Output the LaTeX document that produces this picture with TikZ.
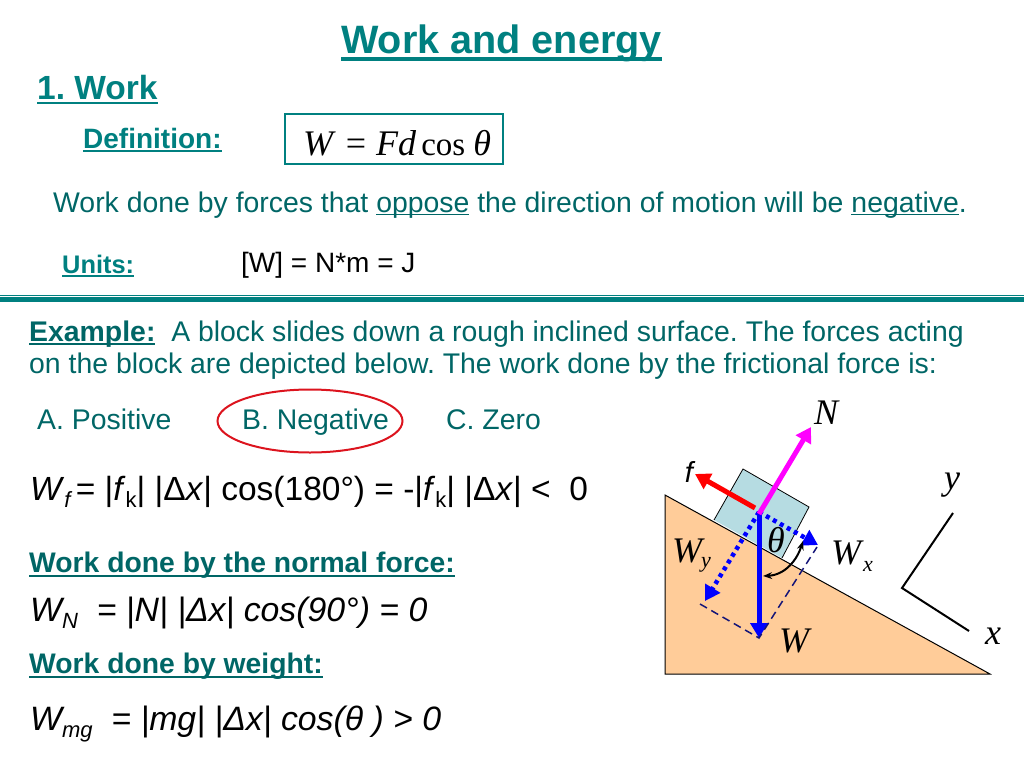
\documentclass[tikz,border=0pt]{standalone}
\usepackage{fontspec}
\setmainfont{Liberation Sans}
\newfontfamily\timesfont{Liberation Serif}
\usetikzlibrary{arrows.meta}
\definecolor{titleteal}{RGB}{0,128,128}
\definecolor{bodyteal}{RGB}{0,102,102}
\definecolor{wedge}{RGB}{255,204,153}
\definecolor{blockblue}{RGB}{182,220,226}
\definecolor{dashnavy}{RGB}{20,20,120}
\definecolor{circlered}{RGB}{220,20,30}
\definecolor{forcemag}{RGB}{255,0,255}
\definecolor{forceblue}{RGB}{0,0,255}
\definecolor{forcered}{RGB}{255,0,0}
\frenchspacing
\newsavebox{\ulbox}
\newcommand{\fsize}[1]{\fontsize{#1}{#1}\selectfont}
\newcommand{\ulined}[2]{\sbox\ulbox{#2}\rlap{\usebox\ulbox}\raisebox{\dimexpr -2\dimexpr #1pt\relax\relax}{\rule{\wd\ulbox}{#1pt}}}
\newcommand{\lowsub}[2]{\raisebox{-7pt}{\fsize{#1}#2}}
\newcommand{\drawforce}{\draw[line width=5pt,-{Triangle[length=15pt,width=17pt]}]}
\newcommand{\drawcomp}{\draw[forceblue,line width=4.5pt,dash pattern=on 4pt off 4pt,-{Triangle[length=15pt,width=17pt,fill=forceblue]}]}
\tikzset{
  lab/.style={inner sep=0pt,anchor=base west},
  head/.style={lab,text=titleteal,font=\bfseries},
  note/.style={lab,text=bodyteal,font=\fsize{28.4}},
  sub/.style={lab,text=bodyteal,font=\bfseries\fsize{28.3}},
  eqn/.style={lab,text=black,font=\fsize{33.5}},
  sym/.style={inner sep=0pt,font=\timesfont\itshape\fsize{36}},
  dashed line/.style={dashnavy,line width=1.5pt,dash pattern=on 8pt off 5pt}
}
\begin{document}
\begin{tikzpicture}[x=1pt,y=-1pt]
\useasboundingbox (0,0) rectangle (1024,768);
\node[head,font=\bfseries\fsize{39.6}] (title) at (341,54) {\ulined{3.5}{Work and energy}};
\node[head,font=\bfseries\fsize{33.5}] (section) at (37,99) {\ulined{2.5}{1. Work}};
\node[head,font=\bfseries\fsize{28}] (defn) at (83,148) {\ulined{2}{Definition:}};
\draw[titleteal,line width=1.5pt] (285,114) rectangle (503,164);
\node[lab,font=\timesfont\fsize{36}] (formula) at (303,155) {\textit{W}\hspace{10pt}=\hspace{10pt}\textit{Fd}\hspace{5pt}{\fsize{33}cos}\hspace{8pt}\textit{θ}};
\node[note] (oppose) at (53,212) {Work done by forces that \ulined{1.5}{oppose} the direction of motion will be \ulined{1.5}{negative}.};
\node[head,font=\bfseries\fsize{25.4}] (units) at (62,273) {\ulined{2}{Units:}};
\node[lab,font=\fsize{28}] (unitline) at (241,272) {[W] = N*m = J};
\draw[titleteal,line width=5pt] (0,299.5)--(1024,299.5);
\draw[titleteal,line width=1pt] (0,295)--(1024,295);

\node[note] (example) at (29,341) {\textbf{\ulined{2}{Example:}}\ \ A block slides down a rough inclined surface. The forces acting};
\node[note] (exampletwo) at (29,373) {on the block are depicted below. The work done by the frictional force is:};
\node[note] (choicea) at (37,429) {A. Positive};
\node[note] (choiceb) at (242,429) {B. Negative};
\node[note] (choicec) at (446,429) {C. Zero};
\draw[circlered,line width=2pt] (310,421) ellipse (92.5 and 31.5);

\node[eqn] (wf) at (30,500) {\textit{W}\lowsub{22}{\textit{f}}\hspace{-6pt} = |\textit{f}\lowsub{22}{k}| |Δ\textit{x}| cos(180°) = -|\textit{f}\lowsub{22}{k}| |Δ\textit{x}| <\ \ 0};
\node[sub] (normalhead) at (29,572) {\ulined{2.5}{Work done by the normal force:}};
\node[eqn,font=\itshape\fsize{33.8}] (wn) at (30,621) {W\lowsub{22}{N}\ \ = |N| |Δx| cos(90°) = 0};
\node[sub] (weighthead) at (29,673) {\ulined{2.5}{Work done by weight:}};
\node[eqn,font=\itshape\fsize{33.8}] (wmg) at (30,730) {W\lowsub{22}{mg}\ \ = |mg| |Δx| cos(θ ) > 0};

% inclined plane
\draw[fill=wedge,line width=1pt] (665,495)--(665,674)--(990,674)--cycle;
\draw[fill=blockblue,line width=.8pt] (714,520)--(743,469)--(809,507)--(782,558);
\coordinate (origin) at (759,512);
\coordinate (nend) at (811,427);
\coordinate (fstart) at (755,508);
\coordinate (fend) at (695,474);
\coordinate (wend) at (759,638);
\coordinate (wyend) at (705,601);
\coordinate (wxend) at (818,545);
\coordinate (wycorner) at (700,604);
\coordinate (wxcorner) at (817,547);
\drawforce[forceblue] (origin)--(wend);
\drawcomp (origin)--(wyend);
\drawcomp (origin)--(wxend);
\draw[dashed line] (wycorner)--(wend)--(wxcorner);
\drawforce[forcered] (fstart)--(fend);
\drawforce[forcemag] ([yshift=-2pt]origin)--(nend);
\draw[line width=2pt,{Stealth[length=9pt]}-{Stealth[length=9pt]}] (763,576) .. controls (785,575) and (797,560) .. (803,541);

% axes
\coordinate (axisy) at (953,513);
\coordinate (axiso) at (902,588);
\coordinate (axisx) at (969,631);
\draw[line width=2pt] (axisy)--(axiso)--(axisx);

\node[sym] (nlabel) at (826,413) {N};
\node[inner sep=0pt,font=\itshape\fsize{29}] (flabel) at (689,472) {f};
\node[sym] (thetalabel) at (776,540) {θ};
\node[sym] (wylabel) at (687,551) {W};
\node[sym,font=\timesfont\itshape\fsize{22}] (wysub) at (706,565) {y};
\node[sym] (wxlabel) at (846,553) {W};
\node[sym,font=\timesfont\itshape\fsize{22}] (wxsub) at (868,566) {x};
\node[sym] (wlabel) at (794,641) {W};
\node[sym] (ylabel) at (952,485) {y};
\node[sym] (xlabel) at (993,636) {x};
\end{tikzpicture}
\end{document}
